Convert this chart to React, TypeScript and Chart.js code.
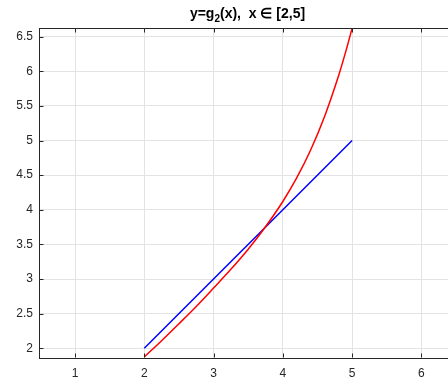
import { useEffect, useRef } from "react";
import { Chart, registerables } from "chart.js";

Chart.register(...registerables);

const titleMain = "y=g";
const titleSub = "2";
const titleRest = "(x),  x ∈ [2,5]";
const redX = [2, 2.25, 2.5, 2.75, 3, 3.25, 3.5, 3.75, 4, 4.2, 4.4, 4.6, 4.8, 4.9, 5];
const redY = [1.875, 2.11, 2.355, 2.605, 2.87, 3.14, 3.43, 3.755, 4.12, 4.46, 4.86, 5.34, 5.92, 6.255, 6.62];
const blueX = [2, 5];
const blueY = [2, 5];
const xTicks = [1, 2, 3, 4, 5, 6];
const yTicks = [2, 2.5, 3, 3.5, 4, 4.5, 5, 5.5, 6, 6.5];

const FONT = "'Liberation Sans', Arial, Helvetica, sans-serif";
const AXIS = "#262626";

const framePlugin = {
  id: "frame",
  afterDraw(chart: any) {
    const { ctx, chartArea: a, scales } = chart;
    ctx.save();
    ctx.strokeStyle = AXIS;
    ctx.lineWidth = 1;
    ctx.beginPath();
    const top = Math.floor(a.top) + 0.5;
    const bottom = Math.floor(a.bottom) - 0.5;
    const left = Math.floor(a.left) + 0.5;
    ctx.moveTo(a.left, top);
    ctx.lineTo(a.right, top);
    for (const v of xTicks) {
      const px = Math.round(scales.x.getPixelForValue(v)) + 0.5;
      ctx.moveTo(px, bottom);
      ctx.lineTo(px, bottom - 4);
      ctx.moveTo(px, top);
      ctx.lineTo(px, top + 4);
    }
    for (const v of yTicks) {
      const py = Math.round(scales.y.getPixelForValue(v)) + 0.5;
      ctx.moveTo(left, py);
      ctx.lineTo(left + 4, py);
    }
    ctx.stroke();

    // title with a real subscript, centred over the plot area
    const big = `bold 14px ${FONT}`;
    const small = `bold 10px ${FONT}`;
    ctx.font = big;
    const w1 = ctx.measureText(titleMain).width;
    const w3 = ctx.measureText(titleRest).width;
    ctx.font = small;
    const w2 = ctx.measureText(titleSub).width;
    const total = w1 + w2 + w3;
    const cx = (a.left + a.right) / 2;
    let x = cx - total / 2;
    const base = 18;
    ctx.fillStyle = "#000000";
    ctx.textBaseline = "alphabetic";
    ctx.textAlign = "left";
    ctx.font = big;
    ctx.fillText(titleMain, x, base);
    x += w1;
    ctx.font = small;
    ctx.fillText(titleSub, x, base + 4);
    x += w2;
    ctx.font = big;
    ctx.fillText(titleRest, x, base);
    ctx.restore();
  },
};

export default function App() {
  const ref = useRef<HTMLCanvasElement | null>(null);
  useEffect(() => {
    if (!ref.current) return;
    const chart = new Chart(ref.current, {
      type: "scatter",
      data: {
        datasets: [
          {
            data: redX.map((x, i) => ({ x, y: redY[i] })),
            showLine: true,
            borderColor: "#ff0000",
            borderWidth: 1.5,
            pointRadius: 0,
            cubicInterpolationMode: "monotone",
            clip: 0,
          } as any,
          {
            data: blueX.map((x, i) => ({ x, y: blueY[i] })),
            showLine: true,
            borderColor: "#0000ff",
            borderWidth: 1.5,
            pointRadius: 0,
            clip: 0,
          } as any,
        ],
      },
      options: {
        animation: false,
        responsive: false,
        layout: { padding: { left: 0, right: 4, top: 28, bottom: 0 } },
        plugins: {
          legend: { display: false },
          tooltip: { enabled: false },
          title: { display: false },
        },
        scales: {
          x: {
            type: "linear",
            min: 0.48,
            max: 6.5,
            afterFit: (s: any) => {
              s.height = 23;
            },
            afterBuildTicks: (s: any) => {
              s.ticks = xTicks.map((value) => ({ value }));
            },
            grid: { color: "#e3e3e3", lineWidth: 1, drawTicks: false },
            border: { color: AXIS, width: 1 },
            ticks: {
              color: AXIS,
              font: { family: FONT, size: 12 },
              padding: 8,
              maxRotation: 0,
              callback: (v: any) => String(v),
            },
          },
          y: {
            type: "linear",
            min: 1.86,
            max: 6.625,
            afterFit: (s: any) => {
              s.width = 39;
            },
            afterBuildTicks: (s: any) => {
              s.ticks = yTicks.map((value) => ({ value }));
            },
            grid: { color: "#e3e3e3", lineWidth: 1, drawTicks: false },
            border: { color: AXIS, width: 1 },
            ticks: {
              color: AXIS,
              font: { family: FONT, size: 12 },
              padding: 6,
              callback: (v: any) => String(v),
            },
          },
        },
      },
      plugins: [framePlugin],
    });
    return () => chart.destroy();
  }, []);
  return (
    <div
      style={{
        position: "fixed",
        left: 0,
        top: 0,
        width: 448,
        height: 381,
        overflow: "hidden",
        background: "#ffffff",
      }}
    >
      <canvas ref={ref} width={460} height={381} style={{ display: "block", width: 460, height: 381 }} />
    </div>
  );
}
